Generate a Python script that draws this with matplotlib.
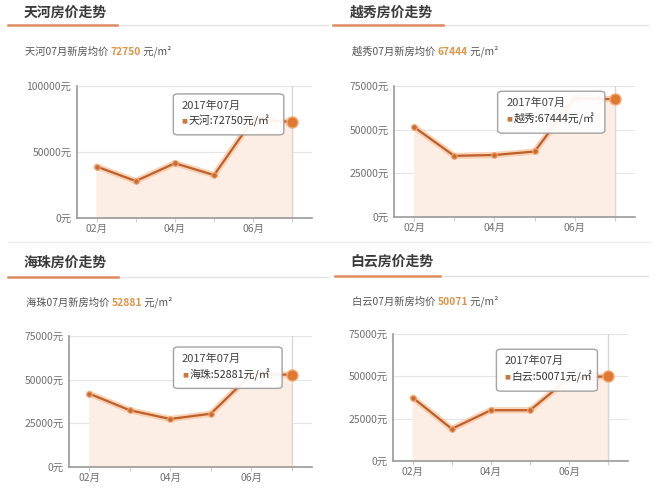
import matplotlib
matplotlib.use("Agg")
import matplotlib.pyplot as plt
from matplotlib.lines import Line2D
from matplotlib.patches import FancyBboxPatch

plt.rcParams['font.family'] = ['Noto Sans CJK SC', 'DejaVu Sans']

# 数据: 2017年02月~07月 新房均价 (元/m²)
months = ['02月', '03月', '04月', '05月', '06月', '07月']
month_nums = [2, 3, 4, 5, 6, 7]
tianhe = [39000, 28000, 41500, 32500, 75000, 72750]
yuexiu = [51500, 35000, 35500, 37500, 68000, 67444]
haizhu = [42000, 32500, 27500, 30500, 53000, 52881]
baiyun = [37500, 19000, 30000, 30000, 49000, 50071]

districts = ['天河', '越秀', '海珠', '白云']
series = [tianhe, yuexiu, haizhu, baiyun]
ymaxes = [100000, 75000, 75000, 75000]
ytick_sets = [[0, 50000, 100000],
              [0, 25000, 50000, 75000],
              [0, 25000, 50000, 75000],
              [0, 25000, 50000, 75000]]

# 版面 (像素坐标, 左上为原点)
W, H = 660, 495
layout = [
    dict(ax=(77, 86, 312, 218), title=(24, 13), uline=(25, 8, 117, 328), sub=(25, 52),
         box=(0.41, 0.63, 0.47, 0.31)),
    dict(ax=(394, 86, 635, 217), title=(350, 13), uline=(25, 333, 443, 648), sub=(352, 52),
         box=(0.43, 0.64, 0.445, 0.32)),
    dict(ax=(69, 336, 312, 467), title=(24, 263), uline=(277, 8, 118, 328), sub=(26, 303),
         box=(0.43, 0.60, 0.447, 0.316)),
    dict(ax=(393, 334, 628, 461), title=(350, 262), uline=(276, 335, 440, 648), sub=(352, 302),
         box=(0.44, 0.55, 0.43, 0.33)),
]

LINE = '#bf5f2c'
GLOW = '#f6c29a'
FILL = '#fdeee5'
ORANGE_TXT = '#dc9448'
GRAY_TXT = '#707070'


def fx(x):
    return x / W


def fy(y):
    return 1 - y / H


fig = plt.figure(figsize=(6.6, 4.95), dpi=100)
fig.patch.set_facecolor('white')

for name, vals, ymax, yticks, lay in zip(districts, series, ymaxes, ytick_sets, layout):
    l, t, r, b = lay['ax']
    ax = fig.add_axes([fx(l), fy(b), fx(r - l), (b - t) / H])

    # 标题与下划线
    tx, ty = lay['title']
    fig.text(fx(tx), fy(ty), name + '房价走势', fontsize=10, fontweight='bold',
             color='#3a3a3a', ha='left', va='center')
    uy, ox0, ox1, gx1 = lay['uline']
    fig.add_artist(Line2D([fx(ox1), fx(gx1)], [fy(uy), fy(uy)], color='#e2e2e2', lw=1))
    fig.add_artist(Line2D([fx(ox0), fx(ox1)], [fy(uy), fy(uy)], color='#df8a5e', lw=1.8))

    # 副标题: 灰字 + 橙色数值 + 单位
    sx, sy = lay['sub']
    t1 = fig.text(fx(sx), fy(sy), name + '07月新房均价 ', fontsize=7.4, color='#555555',
                  ha='left', va='center')
    a2 = ax.annotate(f'{vals[-1]}', xy=(1, 0), xycoords=t1, xytext=(0, 0),
                     textcoords='offset points', fontsize=7.4, color=ORANGE_TXT,
                     fontweight='bold', ha='left', va='bottom', annotation_clip=False)
    ax.annotate(' 元/m²', xy=(1, 0), xycoords=a2, xytext=(0, 0),
                textcoords='offset points', fontsize=7.4, color='#555555',
                ha='left', va='bottom', annotation_clip=False)

    # 面积 + 折线
    ax.fill_between(month_nums, vals, 0, color=FILL, zorder=1)
    ax.plot(month_nums, vals, color=GLOW, lw=4.5, alpha=0.7, solid_capstyle='round', zorder=2)
    ax.plot(month_nums[:-1], vals[:-1], color=LINE, lw=1.6, marker='o', ms=4,
            mfc='#c96b36', mec='#f0a46c', mew=0.8, zorder=3)
    ax.plot(month_nums[-2:], vals[-2:], color=LINE, lw=1.6, zorder=3)
    ax.plot(month_nums[-1], vals[-1], 'o', ms=8, color='#df7830', mec='#f3ad78', mew=1,
            zorder=6, clip_on=False)

    # 十字准线
    ax.axvline(month_nums[-1], color='#d8d8d8', lw=1, zorder=1.5)

    ax.set_xlim(1.5, 7.5)
    ax.set_ylim(0, ymax)
    ax.set_yticks(yticks)
    ax.set_yticklabels([f'{v}元' for v in yticks])
    ax.set_xticks(month_nums)
    ax.set_xticklabels([m if i % 2 == 0 else '' for i, m in enumerate(months)])
    ax.grid(axis='y', color='#e6e6e6', lw=0.8)
    ax.set_axisbelow(True)
    ax.tick_params(axis='y', length=0, labelsize=7.5, labelcolor=GRAY_TXT, pad=4)
    ax.tick_params(axis='x', length=3, color='#cccccc', labelsize=7.5, labelcolor=GRAY_TXT,
                   pad=1)
    for s in ['top', 'right']:
        ax.spines[s].set_visible(False)
    ax.spines['left'].set_color('#9a9a9a')
    ax.spines['bottom'].set_color('#9a9a9a')
    ax.spines['left'].set_linewidth(1.2)
    ax.spines['bottom'].set_linewidth(1.2)
    ax.set_facecolor('none')

    # 提示框
    bx, by, bw, bh = lay['box']
    box = FancyBboxPatch((bx, by), bw, bh, boxstyle='round,pad=0,rounding_size=0.02',
                         transform=ax.transAxes, fc='white', ec='#9c9c9c', lw=1,
                         alpha=0.93, zorder=5, clip_on=False)
    ax.add_patch(box)
    ax.text(bx + 0.035, by + bh * 0.72, '2017年07月', transform=ax.transAxes,
            fontsize=8, color='#444444', ha='left', va='center', zorder=7)
    ax.text(bx + 0.035, by + bh * 0.33, '■', transform=ax.transAxes, fontsize=4.5,
            color='#c9783e', ha='left', va='center', zorder=7,
            family=['DejaVu Sans'])
    ax.text(bx + 0.065, by + bh * 0.33, f'{name}:{vals[-1]}元/㎡', transform=ax.transAxes,
            fontsize=7.8, color='#333333', ha='left', va='center', zorder=7)

# 卡片分隔线
fig.add_artist(Line2D([fx(8), fx(650)], [fy(242), fy(242)], color='#efefef', lw=1))

fig.savefig('out.png', dpi=100)
